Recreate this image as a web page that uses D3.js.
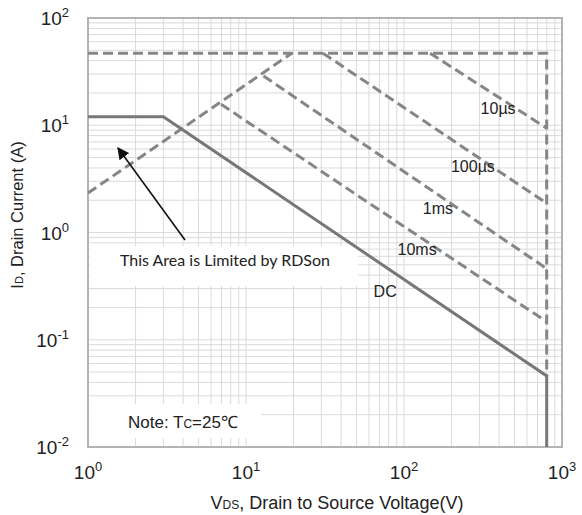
<!DOCTYPE html>
<html>
<head>
<meta charset="utf-8">
<script src="https://cdn.jsdelivr.net/npm/d3@7"></script>
<style>
  body { margin: 0; background: #fff; }
  text { font-family: "Liberation Sans", Arial, sans-serif; fill: #222; }
</style>
</head>
<body>
<div id="graph"></div>
<script>
// safe operating area
const decadesV = [1, 10, 100, 1000]
const decadesI = [0.01, 0.1, 1, 10, 100]

const dcV = [1, 3, 800, 800]
const dcI = [12, 12, 0.046, 0.01]

const rdsV = [1, 19.5]
const rdsI = [2.33, 47]

const limitV = [1, 800, 800]
const limitI = [47, 47, 0.046]

const pulseNames = ['10µs', '100µs', '1ms', '10ms']
const pulseV = [[146, 800], [30.7, 800], [12.9, 800], [6.95, 800]]
const pulseI = [[47, 9.4], [47, 1.87], [28.8, 0.46], [15.7, 0.147]]

// label anchors in data units
const labelNames = ['10µs', '100µs', '1ms', '10ms', 'DC']
const labelV = [394, 273, 164, 121, 76]
const labelI = [14.5, 4.17, 1.69, 0.69, 0.28]

const width = 582
const height = 515
const m = {left: 88, right: 20, top: 18, bottom: 68}

const svg = d3.select('#graph')
  .append('svg')
  .attr('width', width)
  .attr('height', height)

const x = d3.scaleLog().domain([1, 1000]).range([m.left, width - m.right])
const y = d3.scaleLog().domain([0.01, 100]).range([height - m.bottom, m.top])

// grid
const grid = svg.append('g')
grid.selectAll('.gx')
  .data(x.ticks())
  .join('line')
  .attr('x1', d => x(d)).attr('x2', d => x(d))
  .attr('y1', y(0.01)).attr('y2', y(100))
  .attr('stroke', '#dadada')
  .attr('stroke-width', 1)
grid.selectAll('.gy')
  .data(y.ticks())
  .join('line')
  .attr('y1', d => y(d)).attr('y2', d => y(d))
  .attr('x1', x(1)).attr('x2', x(1000))
  .attr('stroke', '#dadada')
  .attr('stroke-width', 1)

// white boxes behind notes
svg.append('rect')
  .attr('x', x(1.03)).attr('y', 246)
  .attr('width', 268).attr('height', 40)
  .attr('fill', '#fff')
svg.append('rect')
  .attr('x', x(1.02)).attr('y', 404)
  .attr('width', 172).attr('height', 34)
  .attr('fill', '#fff')

// frame
svg.append('rect')
  .attr('x', x(1)).attr('y', y(100))
  .attr('width', x(1000) - x(1)).attr('height', y(0.01) - y(100))
  .attr('fill', 'none')
  .attr('stroke', '#b3b3b3')
  .attr('stroke-width', 2)

const line = d3.line().x(d => x(d[0])).y(d => y(d[1]))
const pts = (vs, is) => vs.map((v, i) => [v, is[i]])

const curves = svg.append('g')
  .attr('fill', 'none')
  .attr('stroke', '#868686')
  .attr('stroke-width', 3)

curves.append('path').attr('d', line(pts(limitV, limitI))).attr('stroke-dasharray', '10,5')
curves.append('path').attr('d', line(pts(rdsV, rdsI))).attr('stroke-dasharray', '10,5')
pulseNames.forEach((n, k) => {
  curves.append('path')
    .attr('d', line(pts(pulseV[k], pulseI[k])))
    .attr('stroke-dasharray', '10,5')
})
curves.append('path').attr('d', line(pts(dcV, dcI))).attr('stroke', '#777')

// curve labels
svg.selectAll('.lbl')
  .data(labelNames)
  .join('text')
  .attr('x', (d, i) => x(labelV[i]))
  .attr('y', (d, i) => y(labelI[i]))
  .attr('text-anchor', 'middle')
  .attr('dy', '0.35em')
  .style('font-size', '16px')
  .text(d => d)

// tick labels
const tx = svg.append('g').selectAll('text')
  .data(decadesV)
  .join('text')
  .attr('x', d => x(d))
  .attr('y', 479)
  .attr('text-anchor', 'middle')
  .style('font-size', '19px')
tx.append('tspan').text('10')
tx.append('tspan').attr('dy', -8).style('font-size', '13px').text(d => Math.round(Math.log10(d)))

const ty = svg.append('g').selectAll('text')
  .data(decadesI)
  .join('text')
  .attr('x', 69)
  .attr('y', d => y(d) + 7)
  .attr('text-anchor', 'end')
  .style('font-size', '19px')
ty.append('tspan').text('10')
ty.append('tspan').attr('dy', -8).style('font-size', '13px').text(d => {
  const e = Math.round(Math.log10(d))
  return e < 0 ? '-' + (-e) : e
})

// axis titles
const xt = svg.append('text')
  .attr('x', 337).attr('y', 509)
  .attr('text-anchor', 'middle')
  .style('font-size', '18px')
xt.append('tspan').text('V')
xt.append('tspan').style('font-size', '12px').text('DS')
xt.append('tspan').text(', Drain to Source Voltage(V)')

const yt = svg.append('text')
  .attr('transform', 'translate(23,215) rotate(-90)')
  .attr('text-anchor', 'middle')
  .style('font-size', '16.5px')
yt.append('tspan').text('I')
yt.append('tspan').style('font-size', '11px').text('D')
yt.append('tspan').text(', Drain Current (A)')

// annotations
svg.append('defs').append('marker')
  .attr('id', 'arrow')
  .attr('viewBox', '0 0 10 10')
  .attr('refX', 9).attr('refY', 5)
  .attr('markerWidth', 12).attr('markerHeight', 12)
  .attr('markerUnits', 'userSpaceOnUse')
  .attr('orient', 'auto')
  .append('path')
  .attr('d', 'M0,0L10,5L0,10z')
  .attr('fill', '#111')

svg.append('line')
  .attr('x1', 185).attr('y1', 240)
  .attr('x2', 118).attr('y2', 148)
  .attr('stroke', '#111')
  .attr('stroke-width', 1.6)
  .attr('marker-end', 'url(#arrow)')

svg.append('text')
  .attr('x', 120).attr('y', 266)
  .style('font-family', 'Lato, "Open Sans", sans-serif')
  .style('font-size', '16px')
  .text('This Area is Limited by RDSon')

const note = svg.append('text')
  .attr('x', 128).attr('y', 428)
  .style('font-size', '17px')
note.append('tspan').text('Note: T')
note.append('tspan').style('font-size', '12px').text('C')
note.append('tspan').text('=25℃')
</script>
</body>
</html>
